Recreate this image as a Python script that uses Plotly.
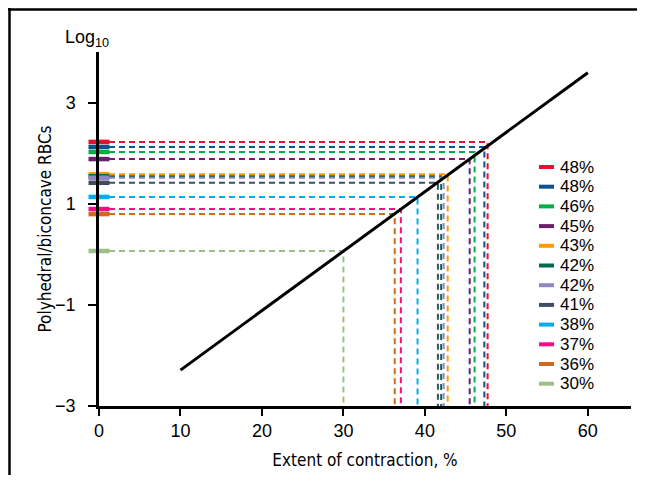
import plotly.graph_objects as go

# ---- data ----
labels = ["48%", "48%", "46%", "45%", "43%", "42%", "42%", "41%", "38%", "37%", "36%", "30%"]
contraction = [47.7, 47.3, 46.1, 45.5, 42.8, 42.0, 42.3, 41.6, 39.1, 37.05, 36.3, 30.0]
log_ratio = [2.23, 2.13, 2.03, 1.89, 1.59, 1.55, 1.52, 1.42, 1.14, 0.90, 0.80, 0.07]
colors = ["#E8112D", "#0B5390", "#00B140", "#6B1F72", "#FF9A00", "#006B4F",
          "#8E86C6", "#3E4E61", "#00AEEF", "#FF0A85", "#D2691E", "#9DBF86"]
fit_x = [10, 60]
fit_y = [-2.29, 3.60]
x_ticks = [0, 10, 20, 30, 40, 50, 60]
y_ticks = [-3, -1, 1, 3]

# page has an 8px body margin; figure sized so the page does not overflow
OFF = 8
W, H = 629, 467
ML, MR, MT, MB = 91, 6, 44, 69
PW, PH = W - ML - MR, H - MT - MB


def px(xs):
    """screen x -> paper x"""
    return (xs - OFF - ML) / PW


def py(ys):
    """screen y -> paper y"""
    return (H - MB - (ys - OFF)) / PH


fig = go.Figure()

# dashed guide lines
for xv, yv, c in zip(contraction, log_ratio, colors):
    fig.add_trace(go.Scatter(
        x=[0, xv, xv], y=[yv, yv, -3], mode="lines",
        line=dict(color=c, width=2, dash="6px,4px"),
        showlegend=False, hoverinfo="skip"))

# fit line
fig.add_trace(go.Scatter(x=fit_x, y=fit_y, mode="lines",
                         line=dict(color="black", width=3),
                         showlegend=False, hoverinfo="skip"))

# colored marks on y axis
for xv, yv, c in zip(contraction, log_ratio, colors):
    fig.add_trace(go.Scatter(
        x=[0], y=[yv], mode="markers", cliponaxis=False,
        marker=dict(symbol="line-ew", size=15, line=dict(color=c, width=4.5)),
        showlegend=False, hoverinfo="skip"))

tick_font = dict(family="Liberation Sans, Arial, sans-serif", size=18, color="black")
title_font = dict(family="DejaVu Sans Condensed, Liberation Sans Narrow, sans-serif",
                  size=17, color="black")

shapes = []
annotations = []

# manual legend
for i, (lab, c) in enumerate(zip(labels, colors)):
    yc = 167 + i * 19.7
    shapes.append(dict(type="line", xref="paper", yref="paper",
                       x0=px(539), x1=px(554), y0=py(yc), y1=py(yc),
                       line=dict(color=c, width=4)))
    annotations.append(dict(text=lab, xref="paper", yref="paper",
                            x=px(558), y=py(yc), xanchor="left", yanchor="middle",
                            showarrow=False,
                            font=dict(family="Liberation Sans, Arial, sans-serif",
                                      size=17, color="black")))

# frame (top and left edges visible)
shapes.append(dict(type="line", xref="paper", yref="paper",
                   x0=px(8), x1=px(660), y0=py(9.5), y1=py(9.5),
                   line=dict(color="black", width=2.5), layer="above"))
shapes.append(dict(type="line", xref="paper", yref="paper",
                   x0=px(9.5), x1=px(9.5), y0=py(500), y1=py(8),
                   line=dict(color="black", width=2.5), layer="above"))

annotations.append(dict(text="Log<sub>10</sub>", xref="paper", yref="paper",
                        x=px(87), y=py(39), xanchor="center", yanchor="middle",
                        showarrow=False,
                        font=dict(family="Liberation Sans, Arial, sans-serif",
                                  size=18, color="black")))

fig.update_layout(
    width=W, height=H,
    margin=dict(l=ML, r=MR, t=MT, b=MB),
    paper_bgcolor="white", plot_bgcolor="white",
    showlegend=False,
    shapes=shapes, annotations=annotations,
    xaxis=dict(range=[0, 65.3], tickvals=x_ticks, showgrid=False, zeroline=False,
               showline=True, linecolor="black", linewidth=2.5,
               ticks="outside", ticklen=7, tickwidth=2, tickcolor="black",
               tickfont=tick_font,
               title=dict(text="Extent of contraction, %", font=title_font, standoff=14)),
    yaxis=dict(range=[-3, 4.01], tickvals=y_ticks, showgrid=False, zeroline=False,
               showline=True, linecolor="black", linewidth=2.5,
               ticks="outside", ticklen=8, tickwidth=2, tickcolor="black",
               ticklabelstandoff=9,
               tickfont=tick_font,
               title=dict(text="Polyhedral/biconcave RBCs", font=title_font, standoff=0)),
)

fig.write_html("out.html")
